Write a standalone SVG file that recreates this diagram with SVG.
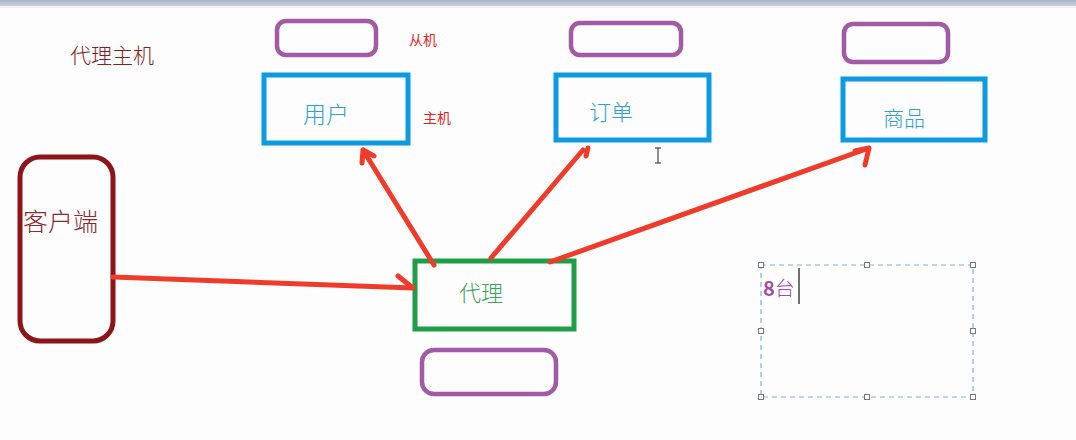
<svg xmlns="http://www.w3.org/2000/svg" width="1076" height="440" viewBox="0 0 1076 440">
<defs>
<linearGradient id="bar" x1="0" y1="0" x2="0" y2="1">
<stop offset="0" stop-color="#a8b3c6"/>
<stop offset="1" stop-color="#c9d1dd"/>
</linearGradient>
<style>
.slave{fill:none;stroke:#a259a6;stroke-width:4.5}
.master{fill:none;stroke:#0c9be2;stroke-width:5}
.lbl{font-family:"Noto Sans CJK SC","Noto Sans",sans-serif;font-weight:300}
.red{font-family:"Noto Sans CJK SC","Noto Sans",sans-serif;font-weight:400;fill:#ee1c1c}
.arrow{fill:none;stroke:#f03b2b;stroke-width:5;stroke-linecap:round;stroke-linejoin:round}
.handle{fill:#fff;stroke:#777;stroke-width:1}
</style>
</defs>
<rect width="1076" height="440" fill="#fdfdfd"/>
<rect width="1076" height="6" fill="url(#bar)"/>
<rect y="6" width="1076" height="2" fill="#eef0f3"/>

<text class="lbl" x="70" y="63" font-size="21" fill="#8b1c22">代理主机</text>

<g id="slave-user"><rect class="slave" x="277" y="21" width="99" height="34" rx="9"/></g>
<text class="red" x="409" y="45" font-size="14">从机</text>
<g id="user"><rect class="master" x="264" y="75" width="144" height="68"/>
<text class="lbl" x="303" y="123" font-size="23" fill="#2f9fd8">用户</text></g>
<text class="red" x="423" y="123" font-size="14">主机</text>

<g id="slave-order"><rect class="slave" x="571" y="23" width="110" height="32" rx="9"/></g>
<g id="order"><rect class="master" x="556" y="75" width="153" height="65"/>
<text class="lbl" x="589" y="120" font-size="22" fill="#2f9fd8">订单</text></g>

<g id="slave-goods"><rect class="slave" x="844" y="24" width="104" height="38" rx="9"/></g>
<g id="goods"><rect class="master" x="843" y="79" width="142" height="61"/>
<text class="lbl" x="883" y="126" font-size="21" fill="#2f9fd8">商品</text></g>

<g id="client"><rect x="20" y="157" width="93" height="184" rx="20" fill="none" stroke="#8d1519" stroke-width="5"/>
<text class="lbl" x="23" y="231" font-size="25" fill="#8b2a2e">客户端</text></g>

<g id="proxy"><rect x="415" y="261" width="159" height="68" fill="none" stroke="#1f9e48" stroke-width="5"/>
<text class="lbl" x="459" y="301" font-size="22" fill="#3aa55a">代理</text></g>

<g id="slave-proxy"><rect class="slave" x="422" y="350" width="134" height="44" rx="12"/></g>

<g id="textbox">
<rect x="761" y="265" width="212" height="132" fill="none" stroke="#7fb3dc" stroke-width="1.2" stroke-dasharray="5,4"/>
<rect class="handle" x="758.5" y="262.5" width="5" height="5"/>
<rect class="handle" x="864.5" y="262.5" width="5" height="5"/>
<rect class="handle" x="970.5" y="262.5" width="5" height="5"/>
<rect class="handle" x="758.5" y="328.5" width="5" height="5"/>
<rect class="handle" x="970.5" y="328.5" width="5" height="5"/>
<rect class="handle" x="758.5" y="394.5" width="5" height="5"/>
<rect class="handle" x="864.5" y="394.5" width="5" height="5"/>
<rect class="handle" x="970.5" y="394.5" width="5" height="5"/>
<text class="lbl" x="763" y="296" font-size="20" fill="#a050a4"><tspan font-weight="bold">8</tspan>台</text>
<line x1="799" y1="268" x2="799" y2="304" stroke="#111" stroke-width="1.2"/>
</g>

<g id="ibeam" stroke="#555" stroke-width="1.3" fill="none">
<line x1="658" y1="148" x2="658" y2="163"/>
<line x1="655" y1="148" x2="661" y2="148"/>
<line x1="655" y1="163" x2="661" y2="163"/>
</g>

<g id="connectors">
<path class="arrow" d="M434 265 L363 150 M362 163 L363 150 L374 156"/>
<path class="arrow" d="M491 258 L583 150 M588 148 L586 156"/>
<path class="arrow" d="M550 262 L869 148 M855 151 L869 148 L865 165"/>
<path class="arrow" d="M113 277 L413 288 M398 276 L413 288"/>
</g>
</svg>
